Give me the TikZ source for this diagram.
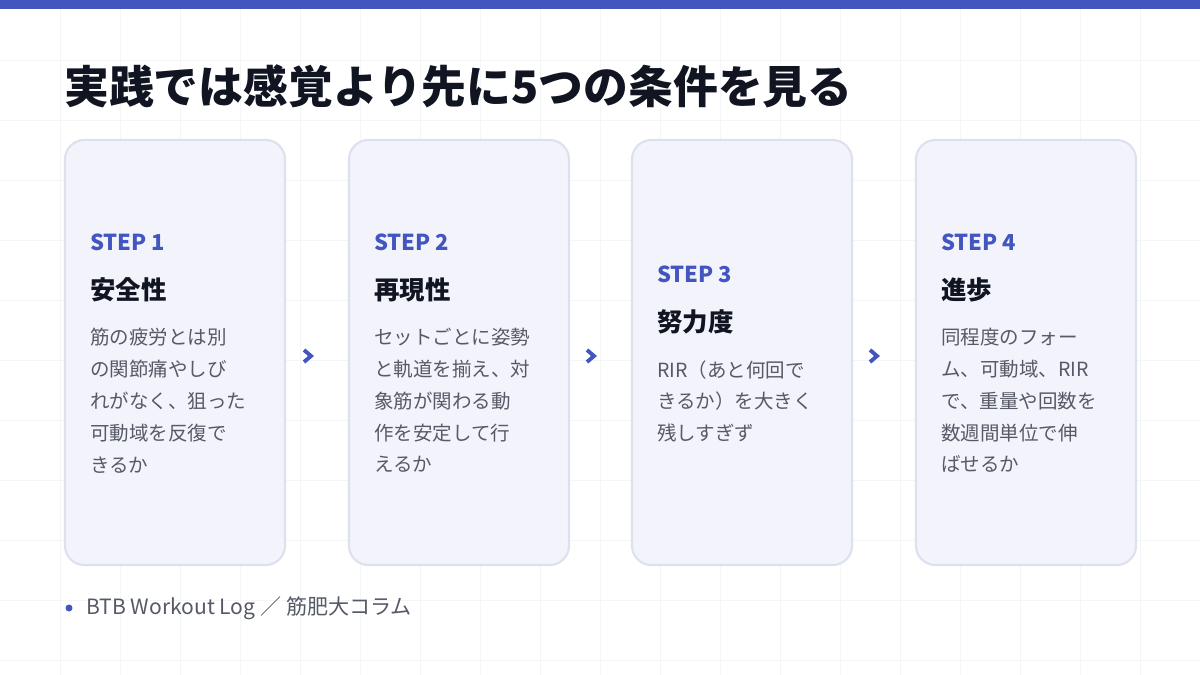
\documentclass[tikz,border=0pt]{standalone}
\usepackage{fontspec}
\setmainfont{Noto Sans CJK JP}
\usetikzlibrary{positioning}
\definecolor{barblue}{HTML}{4356C0}
\definecolor{cardfill}{HTML}{F3F4FB}
\definecolor{carddraw}{HTML}{DDE1EE}
\definecolor{bodygray}{HTML}{555A66}
\definecolor{titleink}{HTML}{111522}
\definecolor{gridline}{HTML}{F4F5F7}
\tikzset{
  card/.style={draw=carddraw, line width=1.2pt, fill=cardfill, rounded corners=11pt},
  steplabel/.style={anchor=west, inner sep=0pt, font=\fontsize{12.5}{14}\selectfont\bfseries, text=barblue},
  stepname/.style={anchor=west, inner sep=0pt, font=\fontsize{14.5}{16}\selectfont\bfseries, text=titleink},
  stepbody/.style={anchor=north west, inner sep=0pt, align=left, font=\fontsize{11.1}{18.1}\selectfont, text=bodygray},
  chevron/.style={draw=barblue, line width=2.2pt, line cap=butt, line join=miter},
}
\begin{document}
\begin{tikzpicture}[x=0.02cm, y=-0.02cm]
  \useasboundingbox (0,0) rectangle (1200,675);
  \fill[white] (0,0) rectangle (1200,675);
  %% faint grid
  \foreach \gx in {60,120,...,1140} \draw[gridline, line width=0.4pt] (\gx,0) -- (\gx,675);
  \foreach \gy in {60,120,...,660} \draw[gridline, line width=0.4pt] (0,\gy) -- (1200,\gy);
  \fill[barblue] (0,0) rectangle (1200,9);

  \node[anchor=west, inner sep=0pt, font=\fontsize{25.5}{28}\selectfont\bfseries, text=titleink] (title) at (64,86) {実践では感覚より先に5つの条件を見る};

  %% Cards
  \foreach \n/\cx/\top/\name/\body in {
      1/65/242/安全性/{筋の疲労とは別\\の関節痛やしび\\れがなく、狙った\\可動域を反復で\\きるか},
      2/349/242/再現性/{セットごとに姿勢\\と軌道を揃え、対\\象筋が関わる動\\作を安定して行\\えるか},
      3/632/274/努力度/{RIR（あと何回で\\きるか）を大きく\\残しすぎず},
      4/916/242/進歩/{同程度のフォー\\ム、可動域、RIR\\で、重量や回数を\\数週間単位で伸\\ばせるか}}{
    \draw[card] (\cx,140) rectangle ++(220,425);
    \node[steplabel] (step\n) at (\cx+25,\top) {STEP \n};
    \node[stepname] (name\n) at (\cx+25,\top+48) {\name};
    \node[stepbody] (body\n) at (\cx+25,\top+86) {\body};
  }

  %% Chevrons
  \foreach \ax/\k in {308/1,591/2,874/3}{
    \coordinate (arrow\k) at (\ax,356);
    \draw[chevron] ([shift={(-4,-6)}]arrow\k) -- ([shift={(3,0)}]arrow\k) -- ([shift={(-4,6)}]arrow\k);
  }

  %% Footer
  \fill[barblue] (69,608) circle (3.5);
  \node[anchor=west, inner sep=0pt, font=\fontsize{12}{13}\selectfont, text=bodygray] (footer) at (86,608) {BTB Workout Log ／ 筋肥大コラム};
\end{tikzpicture}
\end{document}
